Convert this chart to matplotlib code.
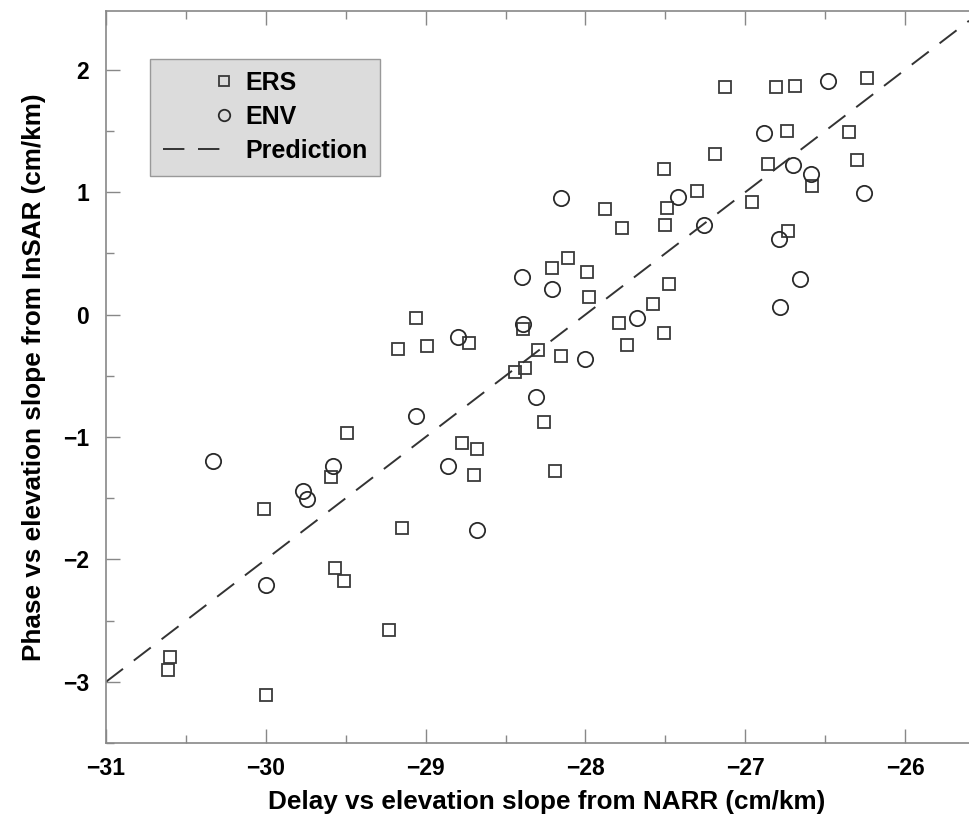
import matplotlib
matplotlib.use('Agg')
import matplotlib.pyplot as plt
import numpy as np
from matplotlib.ticker import MultipleLocator
from matplotlib.legend_handler import HandlerLine2D

plt.rcParams['font.family'] = ['Liberation Sans', 'DejaVu Sans']
plt.rcParams['font.weight'] = 'bold'

# ERS points (NARR slope, InSAR slope)
ers_x = [-29.06, -29.17, -28.99, -28.73, -28.39, -28.30, -28.38, -28.44,
         -27.125, -26.81, -26.69, -26.24, -26.74, -26.35, -27.19, -27.51,
         -26.86, -26.30, -26.58, -27.88, -27.77, -27.49, -27.30, -27.50,
         -26.96, -26.73, -28.21, -28.11, -27.99, -27.98, -27.475, -27.575,
         -27.79, -27.51, -27.74, -28.15, -28.26, -28.19, -29.49, -29.59,
         -28.77, -28.68, -28.70, -30.01, -29.15, -29.57, -29.51, -29.23,
         -30.60, -30.61, -30.00]
ers_y = [-0.03, -0.28, -0.26, -0.23, -0.12, -0.29, -0.44, -0.47,
         1.86, 1.86, 1.87, 1.93, 1.50, 1.49, 1.31, 1.19,
         1.23, 1.26, 1.05, 0.86, 0.71, 0.87, 1.01, 0.73,
         0.92, 0.68, 0.38, 0.46, 0.35, 0.14, 0.25, 0.09,
         -0.07, -0.15, -0.25, -0.34, -0.88, -1.28, -0.97, -1.33,
         -1.05, -1.10, -1.31, -1.59, -1.74, -2.07, -2.18, -2.58,
         -2.80, -2.90, -3.11]

# ENV points
env_x = [-28.40, -28.80, -28.39, -26.48, -26.88, -26.70, -26.59, -26.26,
         -28.15, -27.42, -27.26, -26.79, -26.66, -26.78, -28.21, -27.68,
         -28.00, -28.31, -29.06, -30.33, -29.58, -29.77, -29.74, -28.86,
         -28.68, -30.00]
env_y = [0.31, -0.18, -0.08, 1.91, 1.48, 1.22, 1.15, 0.99,
         0.95, 0.96, 0.73, 0.62, 0.29, 0.06, 0.21, -0.03,
         -0.36, -0.67, -0.83, -1.20, -1.24, -1.44, -1.51, -1.24,
         -1.76, -2.21]

# prediction line
pred_x = [-31.0, -25.6]
pred_y = [-3.0, 2.4]


class RightMarker(HandlerLine2D):
    # single legend marker sits at the right end of the handle
    def get_xdata(self, legend, xdescent, ydescent, width, height, fontsize):
        xm = -xdescent + width - 0.15 * fontsize
        return np.array([xm - 1, xm + 1]), np.array([xm])


fig = plt.figure(figsize=(9.69, 8.15), dpi=100)
ax = fig.add_axes([0.1094, 0.0883, 0.8906, 0.8982])

ers_line, = ax.plot(ers_x, ers_y, linestyle='none', marker='s', markersize=9,
                    markerfacecolor='none', markeredgecolor='#3a3a3a',
                    markeredgewidth=1.3, label='ERS')
env_line, = ax.plot(env_x, env_y, linestyle='none', marker='o', markersize=11,
                    markerfacecolor='none', markeredgecolor='#2a2a2a',
                    markeredgewidth=1.3, label='ENV')
ax.plot(pred_x, pred_y, color='#333333', linewidth=1.4,
        dashes=(11, 7), label='Prediction')

ax.set_xlim(-31, -25.6)
ax.set_ylim(-3.5, 2.48)
ax.xaxis.set_major_locator(MultipleLocator(1))
ax.xaxis.set_minor_locator(MultipleLocator(0.5))
ax.yaxis.set_major_locator(MultipleLocator(1))
ax.yaxis.set_minor_locator(MultipleLocator(0.5))

ax.tick_params(which='both', direction='in', top=True, right=False,
               colors='#888888', labelcolor='black', width=1)
ax.tick_params(which='major', length=10, labelsize=16.5)
ax.tick_params(which='minor', length=6)
ax.tick_params(axis='x', pad=10)
ax.tick_params(axis='y', pad=12)

for s in ['left', 'bottom', 'top']:
    ax.spines[s].set_color('#888888')
    ax.spines[s].set_linewidth(1.2)
ax.spines['right'].set_visible(False)

ax.set_xlabel('Delay vs elevation slope from NARR (cm/km)', fontsize=18.8,
              fontweight='bold')
ax.xaxis.set_label_coords(0.511, -0.064)
ax.set_ylabel('Phase vs elevation slope from InSAR (cm/km)', fontsize=18.8,
              fontweight='bold', labelpad=12)

leg = ax.legend(loc='upper left', bbox_to_anchor=(0.051, 0.935),
                borderaxespad=0, fontsize=18, frameon=True, fancybox=False,
                handlelength=2.6, handletextpad=0.7, labelspacing=0.4,
                numpoints=1, borderpad=0.5, markerscale=0.75,
                handler_map={ers_line: RightMarker(), env_line: RightMarker()})
leg.get_frame().set_facecolor('#dcdcdc')
leg.get_frame().set_edgecolor('#999999')
leg.get_frame().set_alpha(1)

fig.savefig('out.png', dpi=100)
